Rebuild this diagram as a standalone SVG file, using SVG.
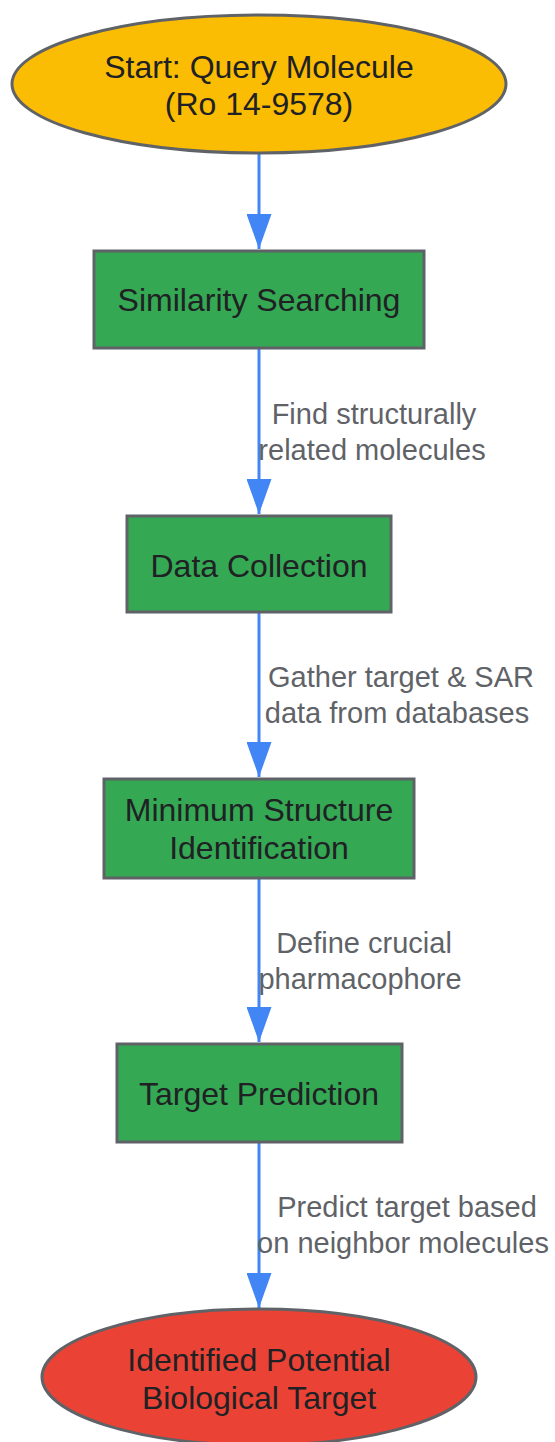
<svg xmlns="http://www.w3.org/2000/svg" width="555" height="1442" viewBox="0 0 555 1442">
<style>
.node{stroke:#5f6368;stroke-width:3}
.start{fill:#fbbc04}
.proc{fill:#34a853}
.end{fill:#ea4335}
.nt{font-family:"Liberation Sans",Arial,sans-serif;font-size:32px;fill:#202124;text-anchor:middle}
.lt{font-family:"Liberation Sans",Arial,sans-serif;font-size:29px;fill:#5f6368;text-anchor:middle}
.edge{stroke:#4285f4;stroke-width:3;fill:none}
</style>
<defs>
<marker id="arrow" viewBox="0 0 35 25" refX="35" refY="12.5" markerWidth="35" markerHeight="25" markerUnits="userSpaceOnUse" orient="auto">
<path d="M0,0 L35,12.5 L0,25 Z" fill="#4285f4"/>
</marker>
</defs>
<rect width="555" height="1442" fill="#ffffff"/>
<g id="connectors">
<line class="edge" x1="259" y1="154" x2="259" y2="249" marker-end="url(#arrow)"/>
<line class="edge" x1="259" y1="349" x2="259" y2="514" marker-end="url(#arrow)"/>
<line class="edge" x1="259" y1="613" x2="259" y2="777" marker-end="url(#arrow)"/>
<line class="edge" x1="259" y1="879" x2="259" y2="1042" marker-end="url(#arrow)"/>
<line class="edge" x1="259" y1="1143" x2="259" y2="1308" marker-end="url(#arrow)"/>
<text class="lt" x="374" y="424">Find structurally</text>
<text class="lt" x="372" y="460">related molecules</text>
<text class="lt" x="401" y="687">Gather target &amp; SAR</text>
<text class="lt" x="397" y="723">data from databases</text>
<text class="lt" x="364" y="953">Define crucial</text>
<text class="lt" x="360" y="989">pharmacophore</text>
<text class="lt" x="407" y="1217">Predict target based</text>
<text class="lt" x="403" y="1253">on neighbor molecules</text>
</g>
<g id="start">
<ellipse class="node start" cx="259" cy="84" rx="247" ry="69"/>
<text class="nt" x="259" y="78">Start: Query Molecule</text>
<text class="nt" x="259" y="115">(Ro 14-9578)</text>
</g>
<g id="similarity">
<rect class="node proc" x="94" y="251" width="330" height="97"/>
<text class="nt" x="259" y="311">Similarity Searching</text>
</g>
<g id="data">
<rect class="node proc" x="127" y="516" width="264" height="96"/>
<text class="nt" x="259" y="577">Data Collection</text>
</g>
<g id="minimum">
<rect class="node proc" x="104" y="779" width="310" height="99"/>
<text class="nt" x="259" y="821">Minimum Structure</text>
<text class="nt" x="259" y="859">Identification</text>
</g>
<g id="prediction">
<rect class="node proc" x="117" y="1044" width="285" height="98"/>
<text class="nt" x="259" y="1105">Target Prediction</text>
</g>
<g id="target">
<ellipse class="node end" cx="259" cy="1377" rx="217" ry="68"/>
<text class="nt" x="259" y="1371">Identified Potential</text>
<text class="nt" x="259" y="1409">Biological Target</text>
</g>
</svg>
